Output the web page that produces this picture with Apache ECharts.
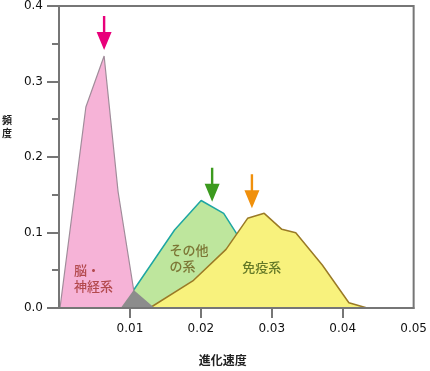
<!DOCTYPE html>
<html>
<head>
<meta charset="utf-8">
<script src="https://cdn.jsdelivr.net/npm/echarts@6/dist/echarts.min.js"></script>
<style>
html,body{margin:0;padding:0;background:#fff;}
#chart{width:430px;height:371px;}
</style>
</head>
<body>
<div id="chart"></div>
<script>
// ---- data (x = 進化速度, y = 頻度) ----
var brainX  = [0.00014, 0.00379, 0.00636, 0.00833, 0.01053, 0.01094];
var brainY  = [0,       0.2662,  0.3338,  0.154,   0.0238,  0];
var otherX  = [0.00885, 0.01053, 0.01629, 0.02004, 0.02322, 0.02486, 0.02683, 0.02963, 0.03104];
var otherY  = [0,       0.0238,  0.1033,  0.1424,  0.1254,  0.1011,  0.0702,  0.0238,  0];
var immuneX = [0.01278, 0.01886, 0.02355, 0.02659, 0.02893, 0.03142, 0.03338, 0.03712, 0.04087, 0.04344];
var immuneY = [0,       0.0358,  0.0777,  0.1188,  0.1254,  0.1042,  0.0997,  0.057,   0.007,   0];
var overlapX = [0.00871, 0.01053, 0.01348];
var overlapY = [0,       0.0238,  0];
// arrow positions (x, tip y)
var arrowBrain  = [0.00636, 0.3417];
var arrowOther  = [0.02159, 0.1408];
var arrowImmune = [0.0272,  0.1320];
// tick labels
var xTicks  = [0.01, 0.02, 0.03, 0.04];
var xLabels = [0.01, 0.02, 0.03, 0.04, 0.05];
var yLabels = ['0.0', '0.1', '0.2', '0.3', '0.4'];
// region names and anchor (data coords)
var nameBrain  = '脳・\n神経系', posBrain  = [0.00211, 0.0397];
var nameOther  = 'その他\nの系', posOther  = [0.01559, 0.0665];
var nameImmune = '免疫系',       posImmune = [0.02858, 0.0543];
var yTitle = '頻\n度';
var xTitle = '進化速度';

function pairs(xs, ys) { return xs.map(function (x, i) { return [x, ys[i]]; }); }

var ARROW = 'path://M6.3,0 L8.7,0 L8.7,16 L15,16 L7.5,34 L0,16 L6.3,16 Z';
function arrow(pt, color) {
  return {
    silent: true,
    symbol: ARROW, symbolSize: [15, 34], symbolKeepAspect: false,
    symbolOffset: [0, '-50%'],
    itemStyle: { color: color },
    label: { show: false },
    data: [{ coord: pt }]
  };
}
var CJK = '"Noto Sans CJK JP", "Noto Sans CJK SC", sans-serif';
function textSeries(pos, text, color, align) {
  return {
    type: 'scatter', z: 10, silent: true, symbolSize: 0,
    data: [pos],
    label: {
      show: true, position: align === 'center' ? 'inside' : 'right', distance: 0,
      formatter: text, color: color, fontFamily: CJK, fontSize: 13, fontWeight: 500,
      lineHeight: 16, align: align
    }
  };
}

var chart = echarts.init(document.getElementById('chart'), null, { renderer: 'canvas' });
chart.setOption({
  animation: false,
  backgroundColor: '#ffffff',
  grid: { left: 59, right: 15, top: 6, bottom: 63, show: true, borderColor: '#767676', borderWidth: 2, backgroundColor: 'transparent', z: 5 },
  graphic: [
    { type: 'text', left: 2, top: 114, silent: true,
      style: { text: yTitle, fontFamily: CJK, fontSize: 10, fontWeight: 'bold', fill: '#222', lineHeight: 13, align: 'left' } }
  ],
  xAxis: {
    type: 'value', min: 0, max: 0.05, z: 6,
    name: xTitle, nameLocation: 'middle', nameGap: 46,
    nameTextStyle: { fontFamily: CJK, fontSize: 12, fontWeight: 'bold', color: '#222', padding: [0, 27, 0, 0] },
    axisLine: { show: true, lineStyle: { color: '#767676', width: 2 } },
    axisTick: { show: true, length: 10, customValues: xTicks, lineStyle: { color: '#767676', width: 2 } },
    axisLabel: { customValues: xLabels, margin: 15, fontFamily: 'DejaVu Sans', fontSize: 12, color: '#111',
      formatter: function (v) { return v.toFixed(2); } },
    splitLine: { show: false }
  },
  yAxis: {
    type: 'value', min: 0, max: 0.4, interval: 0.1, z: 6,
    axisLine: { show: true, lineStyle: { color: '#767676', width: 2 } },
    axisTick: { show: true, length: 12, lineStyle: { color: '#767676', width: 2 } },
    minorTick: { show: true, splitNumber: 2, length: 7, lineStyle: { color: '#767676', width: 2 } },
    axisLabel: { margin: 16, fontFamily: 'DejaVu Sans', fontSize: 12, color: '#111',
      formatter: function (v) { return yLabels[Math.round(v * 10)]; } },
    splitLine: { show: false }
  },
  series: [
    {
      name: 'その他の系', type: 'line', z: 2, showSymbol: false, silent: true,
      data: pairs(otherX, otherY),
      lineStyle: { color: '#1ea6a2', width: 1.5 },
      areaStyle: { color: '#bee69d', opacity: 1 },
      markPoint: arrow(arrowOther, '#3c9a1e')
    },
    {
      name: '免疫系', type: 'line', z: 3, showSymbol: false, silent: true,
      data: pairs(immuneX, immuneY),
      lineStyle: { color: '#9a7a26', width: 1.5 },
      areaStyle: { color: '#f8f27d', opacity: 1 },
      markPoint: arrow(arrowImmune, '#f0900c')
    },
    {
      name: '脳・神経系', type: 'line', z: 3, showSymbol: false, silent: true,
      data: pairs(brainX, brainY),
      lineStyle: { color: '#a08c9a', width: 1.2 },
      areaStyle: { color: '#f6b3d7', opacity: 1 },
      markPoint: arrow(arrowBrain, '#e8007a')
    },
    {
      name: 'overlap', type: 'line', z: 4, showSymbol: false, silent: true,
      data: pairs(overlapX, overlapY),
      lineStyle: { width: 0 },
      areaStyle: { color: '#8c8c8c', opacity: 1 }
    },
    textSeries(posBrain, nameBrain, '#a3302c', 'left'),
    textSeries(posOther, nameOther, '#6b5a1c', 'left'),
    textSeries(posImmune, nameImmune, '#3e5a12', 'center')
  ]
});
</script>
</body>
</html>
